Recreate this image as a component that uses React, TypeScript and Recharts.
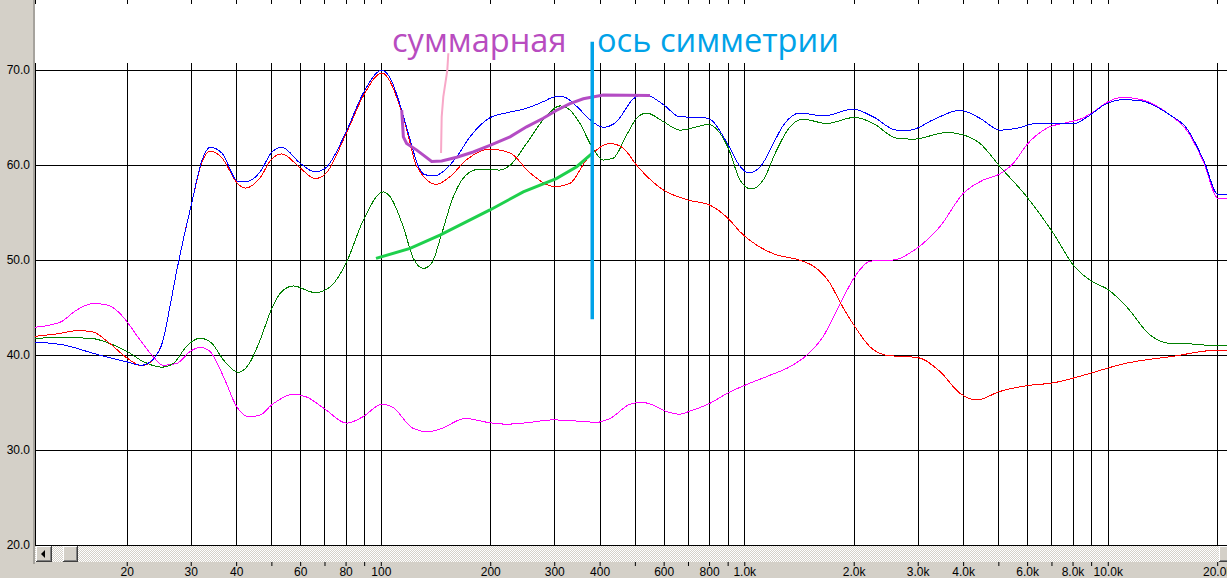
// Frequency-response overlay (log Hz vs dB) in the look of an old Windows
// analyser window, with the hand-drawn annotations on top.

import { CartesianGrid, Line, LineChart, XAxis, YAxis } from "recharts";

const W = 1227;
const H = 578;
const PLOT_LEFT = 35;
const PLOT_BOTTOM = 545.3;

const X_DOMAIN = [11.15, 21215];
const Y_DOMAIN = [20, 77.4];
const Y_TICKS = [20, 30, 40, 50, 60, 70];

const GRID_F = [
  20, 30, 40, 50, 60, 70, 80, 90, 100, 200, 300, 400, 500, 600, 700, 800, 900, 1000,
  2000, 3000, 4000, 5000, 6000, 7000, 8000, 9000, 10000, 20000,
];
const X_LABELS: Record<number, string> = {
  20: "20", 30: "30", 40: "40", 60: "60", 80: "80", 100: "100", 200: "200", 300: "300",
  400: "400", 600: "600", 800: "800", 1000: "1.0k", 2000: "2.0k", 3000: "3.0k",
  4000: "4.0k", 6000: "6.0k", 8000: "8.0k", 10000: "10.0k", 20000: "20.0k",
};

// blue
const blueF = [
  11.15, 13.3, 16.5, 20, 21.9, 23.6, 25.1, 26.2, 27.4, 28.5, 30, 32.1, 33.8, 36.4, 40.4,
  42.6, 46.4, 49.8, 53.2, 59.9, 65.7, 70.2, 80.2, 89.2, 100.4, 105.7, 113.8, 120, 126.4,
  131.9, 140.5, 149.7, 161.3, 175.4, 199, 226, 251, 279, 300.6, 316.7, 344.8, 375.2, 408,
  444, 493.6, 526, 597, 663, 753, 802, 901, 970, 1022, 1101, 1198, 1276, 1418, 1644, 1989,
  2257, 2618, 2848, 3301, 3909, 4438, 5037, 5598, 6353, 8013, 8721, 9899, 11000, 12226,
  14780, 16430, 18260, 20080, 21215,
];
const blueV = [
  41.4, 41.1, 40.1, 39.3, 38.95, 39.6, 41.6, 45.1, 49.0, 52.1, 55.8, 60.5, 61.9, 61.3, 58.3,
  58.3, 59.3, 61.3, 61.9, 60.2, 59.3, 59.7, 63.6, 67.6, 70.0, 69.2, 65.8, 62.7, 59.9, 59.0,
  58.9, 59.5, 60.9, 63.0, 65.0, 65.6, 66.0, 66.7, 67.2, 67.2, 66.2, 64.8, 64.0, 64.6, 67.0,
  67.5, 66.4, 65.1, 65.05, 64.85, 62.1, 59.9, 59.2, 59.8, 62.3, 64.2, 65.5, 65.2, 65.9,
  65.1, 63.7, 63.7, 64.8, 65.8, 64.95, 63.7, 63.9, 64.4, 64.35, 65.05, 66.5, 66.9, 66.8,
  65.3, 63.9, 60.6, 56.9, 56.9,
];

// red
const redF = [
  11.15, 12.8, 14.7, 16.1, 17.9, 20, 21.9, 23.6, 25.1, 26.2, 27.4, 28.5, 30, 32.1, 33.8,
  36.4, 40.4, 42.3, 46.4, 49.8, 53.2, 59.9, 65.7, 70.2, 80.2, 89.2, 100.4, 115, 125.2, 142,
  154.5, 171.8, 199, 226, 256.5, 300.6, 330.4, 367.3, 425.8, 463.3, 504.2, 597, 698, 802,
  910.7, 970, 1078, 1198, 1418, 1543, 1715, 1828, 2010, 2210, 2457, 3001, 3443, 3909, 4345,
  5037, 5964, 7060, 8906, 11000, 15095, 20080, 21215,
];
const redV = [
  42.0, 42.25, 42.6, 42.45, 41.25, 39.7, 38.9, 39.6, 41.6, 45.1, 49.0, 52.1, 55.8, 60.3,
  61.5, 60.8, 58.0, 57.6, 58.7, 60.6, 61.2, 59.7, 58.6, 59.1, 63.4, 67.3, 69.7, 65.1, 59.9,
  58.0, 58.8, 60.6, 61.7, 61.3, 59.2, 57.75, 58.1, 60.6, 62.3, 61.8, 60.0, 57.4, 56.35,
  55.8, 54.2, 53.0, 51.6, 50.7, 50.0, 49.4, 47.6, 45.6, 43.0, 40.9, 40.0, 39.75, 38.3, 36.0,
  35.3, 36.2, 36.8, 37.1, 38.1, 39.1, 39.9, 40.55, 40.55,
];

// dark green
const greenF = [
  11.15, 13.3, 15.8, 17.9, 20, 22.1, 24.9, 26.8, 29.2, 31.7, 34.2, 36.8, 40.4, 43.1, 46.4,
  49.8, 53.2, 57.3, 65.7, 72.3, 80, 89.2, 101.3, 105.7, 115, 122.5, 130.5, 137.6, 146.6,
  157.8, 175.4, 186.8, 212.1, 226, 251, 279, 310, 330.4, 352, 379, 408, 434.6, 473.3, 504,
  537, 597, 663, 737, 793, 901, 970, 1040, 1124, 1224, 1331, 1448, 1680, 2010, 2257, 2618,
  2908, 3594, 3992, 4438, 5037, 5964, 7060, 8013, 8906, 10000, 11237, 13020, 14780, 16780,
  20080, 21215,
];
const greenV = [
  41.8, 41.85, 41.8, 41.25, 40.4, 39.35, 38.75, 39.15, 41.0, 41.8, 41.25, 39.5, 38.2, 39.0,
  41.6, 44.8, 46.7, 47.3, 46.6, 47.2, 49.7, 54.2, 57.2, 56.7, 53.5, 50.2, 49.15, 49.7, 52.8,
  56.7, 59.3, 59.6, 59.5, 60.0, 62.3, 64.8, 66.25, 65.8, 64.4, 62.0, 60.55, 60.75, 63.2,
  64.95, 65.5, 64.6, 63.7, 64.05, 64.3, 61.8, 58.45, 57.5, 58.45, 61.6, 64.05, 64.85, 64.4,
  65.05, 64.4, 62.85, 62.75, 63.45, 63.2, 62.3, 59.85, 56.7, 52.85, 49.5, 47.9, 46.9, 45.1,
  42.15, 41.25, 41.2, 41.0, 41.0,
];

// magenta
const magentaF = [
  11.15, 13.1, 14.5, 16.1, 17.6, 19.1, 20, 21.7, 23.6, 25.1, 27.4, 29.8, 31.7, 33.8, 36.8,
  40.0, 43.1, 46.4, 49.8, 57.3, 62.4, 70.2, 80.3, 89.2, 100.3, 106.8, 122.5, 134.7, 146.6,
  169.9, 199, 221.3, 251, 297.4, 337.5, 391.4, 425.8, 483.4, 520.5, 560.3, 603.3, 663, 698,
  802, 901, 1001, 1173, 1331, 1480, 1644, 1828, 2010, 2210, 2584, 2933, 3443, 3992, 4531,
  5037, 5479, 5964, 6769, 7685, 8358, 9093, 10000, 10887, 12226, 14780, 16430, 18260, 20080,
  21215,
];
const magentaV = [
  42.95, 43.5, 44.75, 45.45, 45.3, 44.4, 43.5, 41.6, 39.85, 38.95, 39.15, 40.4, 40.85, 40.4,
  37.75, 34.6, 33.55, 33.7, 34.75, 35.9, 35.6, 34.3, 32.85, 33.55, 34.85, 34.6, 32.3, 31.95,
  32.3, 33.35, 32.9, 32.75, 32.9, 33.2, 33.1, 32.95, 33.35, 34.85, 35.05, 34.75, 34.15, 33.8,
  34.05, 34.95, 36.05, 36.85, 37.9, 38.8, 40.0, 42.0, 45.4, 48.3, 49.9, 50.05, 51.1, 53.55,
  57.05, 58.45, 59.1, 60.2, 62.15, 63.9, 64.5, 64.85, 65.6, 66.7, 67.15, 66.95, 65.3, 63.7,
  60.4, 56.5, 56.5,
];

// hand-drawn annotations
const sumF = [
  113.8, 115, 117.4, 125.2, 137.6, 146.6, 161.3, 179.1, 199, 226, 251, 279, 303.8, 330.4,
  359.5, 408, 548.5,
];
const sumV = [
  65.8, 63.0, 62.3, 61.6, 60.4, 60.45, 60.85, 61.4, 62.1, 63.0, 64.05, 64.95, 65.8, 66.5,
  67.0, 67.4, 67.35,
];
const slopeF = [96.7, 120, 145, 199, 245.8, 303, 344.8, 381.5];
const slopeV = [50.2, 51.25, 52.65, 55.3, 57.2, 58.6, 59.85, 61.3];
const pointerF = [152.9, 151.9, 148.1, 146.6, 146];
const pointerV = [71.8, 70.0, 67.2, 65.1, 61.3];
const axisF = [380.5, 380.5];
const axisV = [43.8, 73.0];

const pts = (f: number[], v: number[]) => f.map((x, i) => ({ f: x, v: v[i] }));

const UI_FONT = "'Liberation Sans', Arial, sans-serif";
const NOTE_FONT = "'Open Sans', 'Noto Sans', sans-serif";

function XTick({ x, payload }: any) {
  const label = X_LABELS[payload.value];
  return (
    <g>
      <line x1={x} x2={x} y1={562} y2={566} stroke="#000" />
      {label && (
        <text x={x} y={575.5} textAnchor="middle" fontSize={12} fontFamily={UI_FONT} fill="#000">
          {label}
        </text>
      )}
    </g>
  );
}

function YTick({ y, payload }: any) {
  return (
    <text x={30} y={y + 4} textAnchor="end" fontSize={12} fontFamily={UI_FONT} fill="#000">
      {payload.value.toFixed(1)}
    </text>
  );
}

// verticals stop short of the top, leaving only a small stub at the edge
function VGrid(p: any) {
  return (
    <g key={`vg-${p.x1}`}>
      <line x1={p.x1} x2={p.x2} y1={63} y2={p.y2} stroke="#000" />
      <line x1={p.x1} x2={p.x2} y1={0} y2={3.5} stroke="#000" />
    </g>
  );
}

function HGrid(p: any) {
  if (p.y1 < 5) return <g key={`hg-${p.y1}`} />;
  return <line key={`hg-${p.y1}`} x1={p.x1} x2={p.x2} y1={p.y1} y2={p.y2} stroke="#000" />;
}

const btn = {
  position: "absolute" as const,
  top: 546,
  width: 16,
  height: 16,
  background: "#d4d0c8",
  boxShadow: "inset -1px -1px #404040, inset 1px 1px #fff, inset -2px -2px #808080",
};

export default function App() {
  const curve = (key: string, data: any[], color: string) => (
    <Line
      key={key}
      data={data}
      dataKey="v"
      type="monotone"
      stroke={color}
      strokeWidth={1}
      dot={false}
      activeDot={false}
      isAnimationActive={false}
      className="crisp"
    />
  );
  return (
    <div
      style={{
        position: "relative",
        width: W,
        height: H,
        overflow: "hidden",
        background: "#d4d0c8",
      }}
    >
      <style>{`body{margin:0} .crisp path, .recharts-cartesian-grid line, .recharts-xAxis line {shape-rendering:crispEdges}`}</style>
      <div
        style={{ position: "absolute", left: PLOT_LEFT, top: 0, width: W - PLOT_LEFT, height: 546, background: "#fff" }}
      />
      <div style={{ position: "absolute", left: 33, top: 0, width: 2, height: 564, background: "#a6a39d" }} />
      <div
        style={{
          position: "absolute",
          left: PLOT_LEFT,
          top: 546,
          width: W - PLOT_LEFT,
          height: 16,
          background: "repeating-conic-gradient(#ffffff 0% 25%, #d4d0c8 0% 50%) 0 0 / 2px 2px",
        }}
      />
      <div style={{ ...btn, left: 36 }}>
        <div
          style={{
            position: "absolute",
            left: 5,
            top: 4,
            width: 0,
            height: 0,
            borderTop: "4px solid transparent",
            borderBottom: "4px solid transparent",
            borderRight: "4px solid #000",
          }}
        />
      </div>
      <div style={{ ...btn, left: 63, width: 15 }} />
      <div style={{ ...btn, left: 1219 }} />

      <LineChart
        width={W}
        height={H}
        margin={{ top: 0, right: 0, bottom: 0, left: 0 }}
        style={{ position: "absolute", left: 0, top: 0 }}
      >
        <CartesianGrid stroke="#000" vertical={VGrid} horizontal={HGrid} />
        <XAxis
          type="number"
          dataKey="f"
          scale="log"
          domain={X_DOMAIN}
          allowDataOverflow
          ticks={GRID_F}
          interval={0}
          height={H - PLOT_BOTTOM}
          axisLine={{ stroke: "#000" }}
          tickLine={false}
          tick={<XTick />}
        />
        <YAxis
          type="number"
          domain={Y_DOMAIN}
          allowDataOverflow
          ticks={Y_TICKS}
          interval={0}
          width={PLOT_LEFT}
          axisLine={false}
          tickLine={false}
          tick={<YTick />}
        />
        {curve("magenta", pts(magentaF, magentaV), "#ff00ff")}
        {curve("green", pts(greenF, greenV), "#008000")}
        {curve("red", pts(redF, redV), "#ff0000")}
        {curve("blue", pts(blueF, blueV), "#0000ff")}
        <Line data={pts(pointerF, pointerV)} dataKey="v" type="linear" stroke="#f8a8c8" strokeWidth={2} dot={false} activeDot={false} isAnimationActive={false} />
        <Line data={pts(sumF, sumV)} dataKey="v" type="linear" stroke="#b44cc4" strokeWidth={3} dot={false} activeDot={false} isAnimationActive={false} />
        <Line data={pts(slopeF, slopeV)} dataKey="v" type="linear" stroke="#1ed04c" strokeWidth={3} dot={false} activeDot={false} isAnimationActive={false} />
        <Line data={pts(axisF, axisV)} dataKey="v" type="linear" stroke="#00a2e8" strokeWidth={3.5} dot={false} activeDot={false} isAnimationActive={false} />
      </LineChart>

      <svg width={W} height={H} style={{ position: "absolute", left: 0, top: 0, pointerEvents: "none" }}>
        <text x={392} y={52} fontSize={32.6} fontFamily={NOTE_FONT} fill="#b84cc0">
          суммарная
        </text>
        <text x={597} y={52} fontSize={32.6} fontFamily={NOTE_FONT} fill="#00a2e8">
          ось симметрии
        </text>
      </svg>
    </div>
  );
}
